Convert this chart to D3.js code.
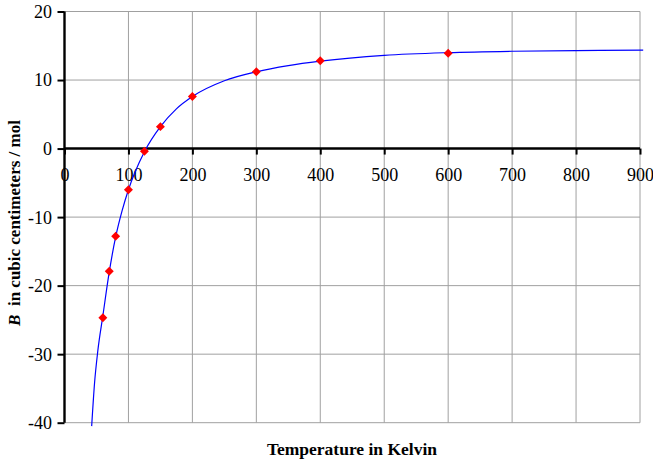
<!DOCTYPE html>
<html>
<head>
<meta charset="utf-8">
<script src="https://cdn.jsdelivr.net/npm/d3@7"></script>
<style>
  body { margin: 0; background: #fff; }
  #chart text { font-family: "Liberation Serif", "Times New Roman", Times, serif; fill: #000; }
</style>
</head>
<body>
<svg id="chart" width="653" height="464"></svg>
<script>
// Measured second virial coefficients
const temperatures = [60, 70, 80, 100, 125, 150, 200, 300, 400, 600];
const bValues = [-24.7, -17.9, -12.8, -6.0, -0.4, 3.2, 7.6, 11.2, 12.8, 13.9];

// Fitted curve, sampled along the temperature range
const fitT = [42.5, 47, 52, 60, 70, 80, 90, 100, 110, 125, 150, 175, 200, 250, 300, 350, 400, 500, 600, 700, 800, 905];
const fitB = [-40.5, -34.2, -29.6, -24.4, -18.0, -12.9, -9.1, -6.0, -3.5, -0.45, 3.2, 5.8, 7.6, 9.9, 11.2, 12.1, 12.75, 13.6, 14.0, 14.2, 14.3, 14.35];

// Axis ticks
const xTicks = [0, 100, 200, 300, 400, 500, 600, 700, 800, 900];
const yTicks = [20, 10, 0, -10, -20, -30, -40];

const svg = d3.select("#chart");
const plotLeft = 64.5, plotRight = 640, plotTop = 11.5, plotBottom = 422.7;

const x = d3.scaleLinear().domain([0, 900]).range([plotLeft, plotRight]);
const y = d3.scaleLinear().domain([-40, 20]).range([plotBottom, plotTop]);

// Plain hyphen-minus labels
const plainLabel = d => String(d);

// Grid lines
const grid = svg.append("g").attr("stroke", "#a0a0a0").attr("stroke-width", 1);
grid.selectAll("line.v").data(xTicks.filter(d => d !== 0)).join("line")
  .attr("class", "v")
  .attr("x1", d => x(d)).attr("x2", d => x(d))
  .attr("y1", plotTop).attr("y2", plotBottom);
grid.selectAll("line.h").data(yTicks.filter(d => d !== 0)).join("line")
  .attr("class", "h")
  .attr("x1", plotLeft).attr("x2", plotRight)
  .attr("y1", d => y(d)).attr("y2", d => y(d));

// Y axis
const yAxis = svg.append("g")
  .attr("transform", `translate(${plotLeft},0)`)
  .call(d3.axisLeft(y).tickValues(yTicks).tickSize(7).tickSizeOuter(0).tickFormat(plainLabel))
  .attr("font-family", null).attr("font-size", null);
yAxis.select(".domain").remove();
yAxis.selectAll(".tick line").attr("stroke", "#000").attr("stroke-width", 2);
yAxis.selectAll(".tick text")
  .attr("x", -12.5).attr("dy", "0.33em")
  .style("font-size", "18px");

// X axis along B = 0
const xAxis = svg.append("g")
  .attr("transform", `translate(0,${y(0)})`)
  .call(d3.axisBottom(x).tickValues(xTicks).tickSize(6).tickSizeOuter(0).tickFormat(plainLabel))
  .attr("font-family", null).attr("font-size", null);
xAxis.select(".domain").remove();
xAxis.selectAll(".tick line").attr("stroke", "#000").attr("stroke-width", 2);
xAxis.selectAll(".tick text")
  .attr("y", 32).attr("dy", null)
  .style("font-size", "18px");

// Axis lines
svg.append("line").attr("x1", plotLeft).attr("x2", plotLeft).attr("y1", plotTop).attr("y2", plotBottom)
  .attr("stroke", "#000").attr("stroke-width", 2.4);
svg.append("line").attr("x1", plotLeft).attr("x2", plotRight).attr("y1", y(0)).attr("y2", y(0))
  .attr("stroke", "#000").attr("stroke-width", 2.4);

// Fitted curve
const fitData = fitT.map((t, i) => [t, fitB[i]]);
svg.append("path")
  .datum(fitData)
  .attr("fill", "none")
  .attr("stroke", "#0000ff")
  .attr("stroke-width", 1.2)
  .attr("d", d3.line().x(d => x(d[0])).y(d => y(d[1])).curve(d3.curveMonotoneX));

// Measured points as red diamonds
const diamond = d3.symbol().type(d3.symbolSquare).size(40);
svg.append("g").selectAll("path")
  .data(temperatures.map((t, i) => [t, bValues[i]]))
  .join("path")
  .attr("d", diamond)
  .attr("fill", "#ff0000")
  .attr("transform", d => `translate(${x(d[0])},${y(d[1])}) rotate(45)`);

// Axis titles
svg.append("text")
  .attr("x", 352).attr("y", 455)
  .attr("text-anchor", "middle")
  .style("font-size", "17.5px").style("font-weight", "bold")
  .text("Temperature in Kelvin");

const yTitle = svg.append("text")
  .attr("transform", "translate(20,223) rotate(-90)")
  .attr("text-anchor", "middle")
  .style("font-size", "17px").style("font-weight", "bold")
  .style("white-space", "pre");
yTitle.append("tspan").style("font-style", "italic").text("B");
yTitle.append("tspan").text("  in cubic centimeters / mol");
</script>
</body>
</html>
